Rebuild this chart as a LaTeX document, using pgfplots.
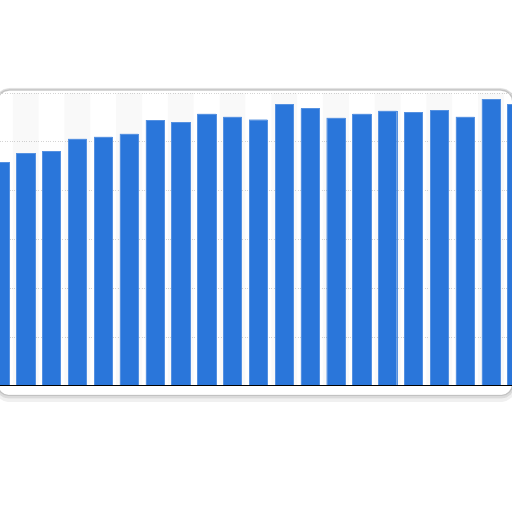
\documentclass[border=0pt]{standalone}
\usepackage{pgfplots}
\pgfplotsset{compat=1.18}
\usepackage{pgfplotstable}
\definecolor{barblue}{HTML}{2A76DA}
\definecolor{gridgray}{HTML}{D4D4D4}

\pgfplotstableread{
idx value
1  4.57
2  4.76
3  4.80
4  5.06
5  5.10
6  5.16
7  5.44
8  5.40
9  5.57
10 5.51
11 5.45
12 5.77
13 5.68
14 5.49
15 5.57
16 5.63
17 5.60
18 5.64
19 5.51
20 5.87
21 5.76
}\bars

\pgfplotstableread{
idx value
2  6
4  6
6  6
8  6
10 6
12 6
14 6
16 6
18 6
20 6
}\stripes

\begin{document}
\begin{tikzpicture}[x=1pt,y=1pt]
\useasboundingbox (0,0) rectangle (512,512);
\clip (0,0) rectangle (512,512);
\fill[white] (0,0) rectangle (512,512);

% card frame with soft shadow
\draw[line width=6pt, black!6, rounded corners=14pt] (-4,113) rectangle (514,421);
\draw[line width=3pt, black!14, rounded corners=12pt] (-3,115) rectangle (513,422);
\draw[line width=1pt, black!24, rounded corners=12pt] (-3,116.5) rectangle (513,422);
\fill[white, rounded corners=11pt] (-2,118) rectangle (512,421);

\begin{axis}[
    at={(0pt,126.3pt)}, anchor=south west,
    scale only axis,
    width=512pt, height=292.8pt,
    xmin=1.006, xmax=20.813,
    ymin=0, ymax=6,
    ytick={0,1,2,3,4,5,6},
    yticklabels={},
    xtick=\empty,
    major tick length=0pt,
    ymajorgrids=true,
    grid style={gridgray, dotted, line width=0.8pt},
    axis line style={draw=none},
]
\addplot[ybar, bar width=1, bar shift=0pt, fill=black, fill opacity=0.025, draw=none]
    table[x=idx, y=value] {\stripes};
\addplot[ybar, bar width=0.708, bar shift=0pt, fill=barblue, draw=barblue!80!white, line width=0.4pt]
    table[x=idx, y=value] {\bars};
\draw[black, line width=0.9pt] (axis cs:1.006,0) -- (axis cs:20.813,0);
\end{axis}
\end{tikzpicture}
\end{document}
